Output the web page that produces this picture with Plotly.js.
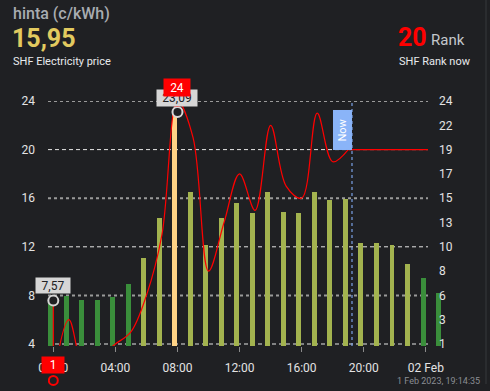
<!DOCTYPE html>
<html>
<head>
<meta charset="utf-8">
<script src="https://cdn.plot.ly/plotly-3.0.1.min.js"></script>
<style>
  html, body { margin: 0; padding: 0; background: #1f2023; }
  #chart { width: 490px; height: 391px; }
</style>
</head>
<body>
<div id="chart"></div>
<script>
// ---- data ----
const hours = [0,1,2,3,4,5,6,7,8,9,10,11,12,13,14,15,16,17,18,19,20,21,22,23,24,25];
const prices = [7.57,7.95,7.62,7.62,7.84,8.93,11.04,14.40,23.09,16.47,12.17,14.40,15.57,14.80,16.50,14.86,14.80,16.50,15.84,15.95,12.28,12.33,12.14,10.58,9.40,8.17];
const rankHours = [0,1,2,3,4,5,6,7,8,9,10,11,12,13,14,15,16,17,18,19];
const ranks = [1,6,2,3,4,5,8,13,24,21,10,14,18,15,22,17,16,23,19,20];
const prevRank = 8;
const leftTicks = [4,8,12,16,20,24];
const rightTicks = [1,3.3,5.6,7.9,10.2,12.5,14.8,17.1,19.4,21.7,24];
const xTickHours = [0,4,8,12,16,20,24];
const xTickText = ["00:00","04:00","08:00","12:00","16:00","20:00","02 Feb"];
const nowHour = 19 + 14/60 + 35/3600;
const currentPrice = "15,95";
const currentRank = "20";
const timestamp = "1 Feb 2023, 19:14:35";

// ---- geometry / style ----
const W = 490, H = 391;
const ML = 48, MR = 44, MT = 101, MB = 45;
const PW = W - ML - MR, PH = H - MT - MB;
const PX = p => (p - ML) / PW;
const PY = p => 1 - (p - MT) / PH;
const BAR_SHIFT = 0.18;
const X_RANGE = [-0.342, 25.30];
const Y_RANGE = [3.835, 24];
const GRID_END = 24.14;
const BG = '#1f2023';
const GREEN = '#3a8e3b', OLIVE = '#a3b34f', PEAK = '#ffd386';
const fmt = v => v.toFixed(2).replace('.', ',');
const yPaper = v => (v - Y_RANGE[0]) / (Y_RANGE[1] - Y_RANGE[0]);

const maxPrice = Math.max(...prices.slice(0,24));
const minPrice = Math.min(...prices.slice(0,24));
const iMax = prices.indexOf(maxPrice), iMin = prices.indexOf(minPrice);
const rMax = Math.max(...ranks), rMin = Math.min(...ranks);
const irMax = rankHours[ranks.indexOf(rMax)], irMin = rankHours[ranks.indexOf(rMin)];

const barColors = prices.map(p => p === maxPrice ? PEAK : (p < 10 ? GREEN : OLIVE));

const traces = [
  {type:'bar', x: hours.map(h => h - BAR_SHIFT), y: prices, width: 0.32,
   marker:{color: barColors, line:{width:0}}, hoverinfo:'skip'},
  {type:'scatter', mode:'lines', x:[rankHours[0], rankHours[0]], y:[prevRank, ranks[0]],
   line:{color:'#ff0000', width:1.2}, hoverinfo:'skip'},
  {type:'scatter', mode:'lines', x: rankHours, y: ranks,
   line:{color:'#ff0000', width:1.2, shape:'spline', smoothing:1}, hoverinfo:'skip'},
  {type:'scatter', mode:'lines', x:[rankHours[rankHours.length-1], GRID_END], y:[ranks[ranks.length-1], ranks[ranks.length-1]],
   line:{color:'#ff0000', width:1.2}, hoverinfo:'skip'},
  {type:'scatter', mode:'markers', x:[hours[iMin], hours[iMax]], y:[minPrice, maxPrice], cliponaxis:false,
   marker:{size:10, color:BG, line:{color:'#d6d6d6', width:2}}, hoverinfo:'skip'},
  {type:'scatter', mode:'markers', x:[irMax], y:[rMax], cliponaxis:false,
   marker:{size:10, color:BG, line:{color:'#ff0000', width:2}}, hoverinfo:'skip'},
  {type:'scatter', mode:'markers', x:[null], y:[null], yaxis:'y2', hoverinfo:'skip'}
];

const shapes = leftTicks.map((v, i) => ({
  type:'line', layer:'below', xref:'x', yref:'y', x0:X_RANGE[0], x1:GRID_END, y0:v, y1:v,
  line: (i % 2 === 0) ? {color:'#e6e6e6', width:1, dash:'4px,3px'} : {color:'#9a9a9a', width:2, dash:'3px,3px'}
}));
shapes.push({type:'line', xref:'x', yref:'paper', x0:nowHour, x1:nowHour, y0:0, y1:1,
  line:{color:'#7aa0e6', width:1.2, dash:'dot'}});
shapes.push({type:'line', xref:'paper', yref:'paper', x0:PX(486), x1:PX(486), y0:PY(0), y1:PY(384),
  line:{color:'#2f3034', width:1.5}});
// min-rank marker lies below the axis range: draw as pixel-sized circle anchored at its data position
shapes.push({type:'circle', xref:'x', yref:'paper', xsizemode:'pixel', ysizemode:'pixel',
  xanchor:irMin, yanchor:yPaper(rMin), x0:-4.5, x1:4.5, y0:-4.5, y1:4.5,
  fillcolor:BG, line:{color:'#ff0000', width:2}});

const lbl = (x, y, text, bg, fc, w, h, ys) => ({
  x, y, xref:'x', yref:'y', text, showarrow:false, bgcolor:bg, width:w, height:h, borderpad:0,
  font:{size:12, color:fc, family:'Roboto'}, yshift:ys, xanchor:'center', yanchor:'middle'
});
const hdr = (x, y, text, size, color, extra) => Object.assign({
  x:PX(x), y:PY(y), xref:'paper', yref:'paper', text, showarrow:false, xanchor:'left', yanchor:'middle',
  font:{size, color, family:'Roboto'}
}, extra || {});

const annotations = [
  hdr(11, 13, 'hinta (c/kWh)', 16, '#a8acb1', {font:{size:16, color:'#a8acb1', family:'Roboto', weight:500}}),
  hdr(10, 38, currentPrice, 25, '#e2ca5f', {font:{size:25, color:'#e2ca5f', family:'Roboto', weight:'bold'}}),
  hdr(11, 61, 'SHF Electricity price', 11, '#e8eaed'),
  hdr(396, 37, currentRank, 25, '#ff0000', {font:{size:25, color:'#ff0000', family:'Roboto', weight:'bold'}}),
  hdr(429, 40, 'Rank', 15, '#c4c8cc'),
  hdr(397, 61, 'SHF Rank now', 11, '#e8eaed'),
  hdr(482, 381, timestamp, 9, '#8a8e93', {xanchor:'right'}),
  lbl(hours[iMin], minPrice, fmt(minPrice), '#d6d6d6', '#202124', 34, 15, 15),
  lbl(hours[iMax], maxPrice, fmt(maxPrice), '#d6d6d6', '#202124', 40, 16, 14),
  lbl(irMax, rMax, String(rMax), '#ff0000', '#ffffff', 26, 17, 14),
  Object.assign(lbl(irMin, yPaper(rMin), String(rMin), '#ff0000', '#ffffff', 22, 16, 15), {yref:'paper'}),
  {x:nowHour, y:1, xref:'x', yref:'paper', text:'Now', textangle:-90, showarrow:false,
   bgcolor:'#8ab4f8', font:{size:11, color:'#ffffff', family:'Roboto'}, width:39, height:18, borderpad:0,
   xanchor:'right', yanchor:'top', yshift:-8}
];

const layout = {
  width:W, height:H, margin:{l:ML, r:MR, t:MT, b:MB, pad:0},
  paper_bgcolor:BG, plot_bgcolor:'rgba(0,0,0,0)', showlegend:false,
  font:{family:'Roboto', color:'#e3e3e3'},
  bargap:0,
  xaxis:{range:X_RANGE, tickvals:xTickHours, ticktext:xTickText, ticks:'outside', ticklen:5,
    tickcolor:'#8a8a8a', tickfont:{size:12, color:'#e3e3e3'}, showgrid:false, zeroline:false,
    showline:false, fixedrange:true, ticklabelstandoff:6},
  yaxis:{range:Y_RANGE, tickvals:leftTicks, ticks:'', showgrid:false, zeroline:false,
    tickfont:{size:12, color:'#e3e3e3'}, ticklabelstandoff:12, fixedrange:true},
  yaxis2:{overlaying:'y', side:'right', anchor:'free', position:PX(438), range:[0.811, 24],
    tickvals:rightTicks, ticktext:rightTicks.map(v => String(Math.round(v))), ticks:'', showgrid:false,
    zeroline:false, showline:false, tickfont:{size:12, color:'#e3e3e3'}, fixedrange:true},
  shapes, annotations
};

Plotly.newPlot('chart', traces, layout, {displayModeBar:false, staticPlot:true});
</script>
</body>
</html>
